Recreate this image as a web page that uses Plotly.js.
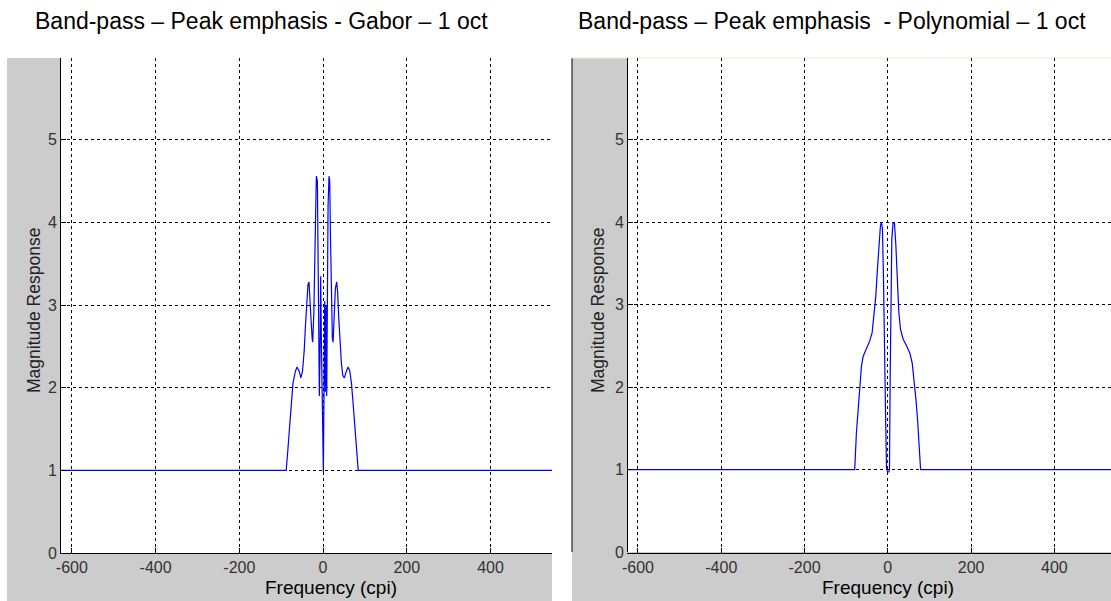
<!DOCTYPE html>
<html>
<head>
<meta charset="utf-8">
<script src="https://cdn.plot.ly/plotly-3.0.1.min.js"></script>
<style>html,body{margin:0;padding:0;background:#fff;}#chart{width:1111px;height:601px;}</style>
</head>
<body>
<div id="chart"></div>
<script>
// ---- data ----
const titleLeft = "Band-pass – Peak emphasis - Gabor – 1 oct";
const titleRight = "Band-pass – Peak emphasis\u00a0 - Polynomial – 1 oct";
const xLabel = "Frequency (cpi)";
const yLabel = "Magnitude Response";
const xTicks = [-600, -400, -200, 0, 200, 400];
const yTicks = [0, 1, 2, 3, 4, 5];

const gaborX = [-627, -88, -84, -80, -76, -72, -66, -62, -57, -53, -49, -45, -42, -39, -36, -33.5, -31, -29, -26, -24.7, -22, -20, -17.5, -16, -13.5, -12, -10.4, -8.8, -7.2, -5.6, -4, -2.4, -0.8, 0.8, 2.4, 4, 5.6, 7.2, 8.8, 10.4, 12, 14.3, 16, 17.5, 20, 22.3, 24, 26.3, 29.5, 32.7, 35, 37.5, 40.6, 43.8, 47, 51, 55.8, 60, 64, 68, 72, 76, 80, 84, 627];
const gaborY = [1, 1, 1.25, 1.55, 1.85, 2.05, 2.2, 2.25, 2.2, 2.12, 2.2, 2.45, 2.75, 3.05, 3.25, 3.28, 3.1, 2.85, 2.6, 2.55, 2.9, 3.6, 4.3, 4.56, 4.5, 3.6, 2.6, 1.9, 2.4, 3.35, 2.6, 1.85, 0.98, 0.98, 2.0, 3.05, 1.95, 3.0, 1.9, 3.3, 4.2, 4.56, 4.5, 3.9, 3.0, 2.6, 2.55, 2.9, 3.2, 3.28, 3.15, 2.85, 2.55, 2.3, 2.15, 2.12, 2.2, 2.25, 2.2, 2.05, 1.8, 1.55, 1.25, 1, 1];

const polyX = [-627, -79.5, -75.5, -71.5, -67.5, -63.4, -59.4, -51.4, -43.4, -37.7, -32.9, -28.9, -24.9, -20.9, -17.7, -15.3, -12.9, -10.4, -8.0, -5.6, -3.2, -0.8, 2.4, 4.0, 5.6, 7.2, 9.6, 12.8, 16.1, 19.3, 22.5, 26.5, 30.5, 36.9, 45.0, 53.0, 58.6, 63.4, 67.5, 71.5, 75.5, 78.7, 627];
const polyY = [1, 1, 1.44, 1.72, 2.0, 2.25, 2.37, 2.46, 2.56, 2.66, 2.86, 3.1, 3.43, 3.72, 3.96, 4.0, 3.92, 3.31, 2.29, 1.72, 1.03, 0.97, 0.97, 1.0, 2.09, 3.31, 3.8, 4.0, 3.98, 3.72, 3.35, 2.9, 2.7, 2.58, 2.5, 2.41, 2.29, 2.09, 1.85, 1.6, 1.32, 1.0, 1.0];

// ---- layout helpers (pixel -> paper) ----
const W = 1111, H = 601;
const px = v => v / W;
const py = v => 1 - v / H;
const FONT = "Liberation Sans, Arial, Helvetica, sans-serif";
const GRAY = "#cccccc";

function xAx(domain, range) {
  return {
    domain: domain, range: range, tickvals: xTicks, ticktext: xTicks.map(String),
    showgrid: true, gridcolor: "#000", gridwidth: 1, griddash: "3px,3px",
    showline: true, linecolor: "#000", linewidth: 1, mirror: false,
    ticks: "inside", ticklen: 5, tickcolor: "#000", zeroline: false,
    tickfont: {family: FONT, size: 16, color: "#333"}, fixedrange: true
  };
}
function yAx(domain, range, anchor) {
  return {
    domain: domain, range: range, tickvals: yTicks, ticktext: yTicks.map(String),
    showgrid: true, gridcolor: "#000", gridwidth: 1, griddash: "3px,3px",
    showline: true, linecolor: "#000", linewidth: 1, mirror: false,
    ticks: "inside", ticklen: 5, tickcolor: "#000", zeroline: false, anchor: anchor,
    tickfont: {family: FONT, size: 16, color: "#333"}, fixedrange: true
  };
}

const traces = [
  {x: gaborX, y: gaborY, type: "scatter", mode: "lines", xaxis: "x", yaxis: "y",
   line: {color: "#0000ff", width: 1.2}, hoverinfo: "skip"},
  {x: polyX, y: polyY, type: "scatter", mode: "lines", xaxis: "x2", yaxis: "y2",
   line: {color: "#0000ff", width: 1.2}, hoverinfo: "skip"}
];

function rect(x0, x1, y0, y1, color) {
  return {type: "rect", xref: "paper", yref: "paper", x0: px(x0), x1: px(x1), y0: py(y1), y1: py(y0),
          fillcolor: color, line: {width: 0}, layer: "below"};
}
function line(x0, y0, x1, y1, color) {
  return {type: "line", xref: "paper", yref: "paper", x0: px(x0), x1: px(x1), y0: py(y0), y1: py(y1),
          line: {color: color, width: 1}, layer: "below"};
}

const layout = {
  width: W, height: H,
  margin: {l: 0, r: 0, t: 0, b: 0, pad: 0},
  paper_bgcolor: "#ffffff", plot_bgcolor: "#ffffff",
  showlegend: false, hovermode: false,
  xaxis: xAx([px(61), px(552)], [-626, 547]),
  yaxis: yAx([py(553), py(58)], [0, 5.99], "x"),
  xaxis2: xAx([px(628), 1], [-624, 536]),
  yaxis2: yAx([py(552), py(58)], [0, 5.99], "x2"),
  shapes: [
    rect(7, 61, 58, 601, GRAY),
    rect(7, 552, 553, 601, GRAY),
    rect(572, 628, 58, 601, GRAY),
    rect(572, 1111, 552, 601, GRAY),
    line(572, 58, 572, 552, "#000000"),
    line(572, 58, 1111, 58, "#ece9d8")
  ],
  annotations: [
    {text: titleLeft, xref: "paper", yref: "paper", x: px(261), y: py(21), showarrow: false,
     xanchor: "center", yanchor: "middle", font: {family: FONT, size: 23, color: "#000"}},
    {text: titleRight, xref: "paper", yref: "paper", x: px(832), y: py(21), showarrow: false,
     xanchor: "center", yanchor: "middle", font: {family: FONT, size: 23, color: "#000"}},
    {text: xLabel, xref: "paper", yref: "paper", x: px(331), y: py(587), showarrow: false,
     xanchor: "center", yanchor: "middle", font: {family: FONT, size: 19, color: "#000"}},
    {text: xLabel, xref: "paper", yref: "paper", x: px(888), y: py(587), showarrow: false,
     xanchor: "center", yanchor: "middle", font: {family: FONT, size: 19, color: "#000"}},
    {text: yLabel, xref: "paper", yref: "paper", x: px(34), y: py(311), showarrow: false, textangle: -90,
     xanchor: "center", yanchor: "middle", font: {family: FONT, size: 17.5, color: "#222"}},
    {text: yLabel, xref: "paper", yref: "paper", x: px(598), y: py(311), showarrow: false, textangle: -90,
     xanchor: "center", yanchor: "middle", font: {family: FONT, size: 17.5, color: "#222"}}
  ]
};

Plotly.newPlot("chart", traces, layout, {displayModeBar: false, staticPlot: true});
</script>
</body>
</html>
